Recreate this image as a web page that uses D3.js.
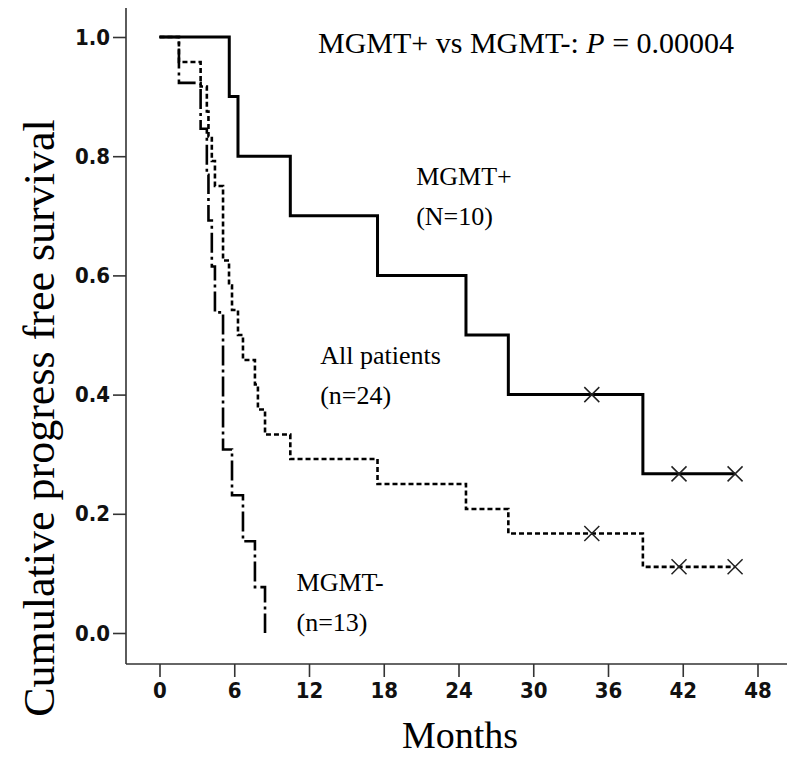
<!DOCTYPE html>
<html>
<head>
<meta charset="utf-8">
<script src="https://cdn.jsdelivr.net/npm/d3@7"></script>
<style>
  html, body { margin: 0; padding: 0; background: #fff; }
  svg { display: block; }
</style>
</head>
<body>
<svg id="chart" width="800" height="764"></svg>
<script>
// ---- Data ----
const xTicks = [0, 6, 12, 18, 24, 30, 36, 42, 48];
const yTicks = [0.0, 0.2, 0.4, 0.6, 0.8, 1.0];

// MGMT+ (N=10): solid
const posTimes = [0, 5.6, 6.3, 10.5, 17.5, 24.6, 28.0, 38.8, 46.2];
const posSurv  = [1.0, 0.9, 0.8, 0.7, 0.6, 0.5, 0.4, 0.267, 0.267];
const posCensorTimes = [34.7, 41.7, 46.2];
const posCensorSurv  = [0.4, 0.267, 0.267];

// All patients (n=24): dashed
const allTimes = [0, 1.56, 3.3, 3.8, 3.93, 4.2, 4.45, 5.1, 5.58, 5.82, 6.3, 6.7, 7.66, 7.9, 8.47, 10.5, 17.5, 24.6, 28.0, 38.8, 46.2];
const allSurv  = [1.0, 0.958, 0.917, 0.875, 0.833, 0.792, 0.75, 0.625, 0.583, 0.542, 0.5, 0.458, 0.417, 0.375, 0.333, 0.292, 0.25, 0.208, 0.167, 0.111, 0.111];
const allCensorTimes = [34.7, 41.7, 46.2];
const allCensorSurv  = [0.167, 0.111, 0.111];

// MGMT- (n=13): dash-dot
const negTimes = [0, 1.56, 3.3, 3.8, 3.93, 4.2, 4.45, 5.1, 5.82, 6.7, 7.66, 8.47];
const negSurv  = [1.0, 0.923, 0.846, 0.769, 0.692, 0.615, 0.538, 0.308, 0.231, 0.154, 0.077, 0.0];

const labels = [
  {lines: ["MGMT+", "(N=10)"], t: 20.6, s: 0.752},
  {lines: ["All patients", "(n=24)"], t: 12.9, s: 0.452},
  {lines: ["MGMT-", "(n=13)"], t: 11.0, s: 0.07}
];

// ---- Drawing ----
const svg = d3.select("#chart");
const x = d3.scaleLinear().domain([0, 48]).range([159.5, 757.5]);
const y = d3.scaleLinear().domain([0, 1]).range([633, 37]);

const tickFont = '"Liberation Sans Narrow", "DejaVu Sans Condensed", "Arial Narrow", sans-serif';
const serif = '"Liberation Serif", "Times New Roman", serif';

// axes
const xAxisY = 664;
const yAxisX = 126;
const gx = svg.append("g").attr("transform", `translate(0,${xAxisY})`)
  .call(d3.axisBottom(x).tickValues(xTicks).tickSize(13).tickSizeOuter(0).tickPadding(5).tickFormat(d3.format("d")));
gx.select(".domain").attr("d", `M${yAxisX},0H787`);
const gy = svg.append("g").attr("transform", `translate(${yAxisX},0)`)
  .call(d3.axisLeft(y).tickValues(yTicks).tickSize(13).tickSizeOuter(0).tickPadding(3).tickFormat(d3.format(".1f")));
gy.select(".domain").attr("d", `M0,8V${xAxisY}`);

[gx, gy].forEach(g => {
  g.selectAll(".domain").attr("stroke", "#333").attr("stroke-width", 1.6);
  g.selectAll(".tick line").attr("stroke", "#333").attr("stroke-width", 1.6);
  g.selectAll("text").attr("font-family", tickFont).attr("font-weight", "bold")
    .attr("font-size", 22).attr("fill", "#111").style("font-stretch", "condensed");
});

// curves
const line = d3.line().x(d => x(d[0])).y(d => y(d[1])).curve(d3.curveStepAfter);
const series = [
  {t: posTimes, s: posSurv, dash: null, w: 3},
  {t: allTimes, s: allSurv, dash: "5,3", w: 2.6},
  {t: negTimes, s: negSurv, dash: "20,4,3,4", w: 2.6}
];
series.forEach(sr => {
  const pts = sr.t.map((t, i) => [t, sr.s[i]]);
  svg.append("path").datum(pts).attr("d", line)
    .attr("fill", "none").attr("stroke", "#000").attr("stroke-width", sr.w)
    .attr("stroke-dasharray", sr.dash);
});

// censor marks (x)
const censors = [
  {t: posCensorTimes, s: posCensorSurv},
  {t: allCensorTimes, s: allCensorSurv}
];
const cs = 7.5;
censors.forEach(c => {
  c.t.forEach((t, i) => {
    const cx = x(t), cy = y(c.s[i]);
    svg.append("path")
      .attr("d", `M${cx - cs},${cy - cs}L${cx + cs},${cy + cs}M${cx - cs},${cy + cs}L${cx + cs},${cy - cs}`)
      .attr("stroke", "#222").attr("stroke-width", 1.5).attr("fill", "none");
  });
});

// curve labels
labels.forEach(l => {
  const txt = svg.append("text").attr("font-family", serif).attr("font-size", 26).attr("fill", "#000");
  l.lines.forEach((s, i) => {
    txt.append("tspan").attr("x", x(l.t)).attr("y", y(l.s) + i * 40).text(s);
  });
});

// title
const title = svg.append("text").attr("x", 318).attr("y", 53)
  .attr("font-family", serif).attr("font-size", 30).attr("fill", "#000");
title.append("tspan").text("MGMT+ vs MGMT-: ");
title.append("tspan").attr("font-style", "italic").text("P");
title.append("tspan").text(" = 0.00004");

// axis titles
svg.append("text").attr("x", 460).attr("y", 748).attr("text-anchor", "middle")
  .attr("font-family", serif).attr("font-size", 38).attr("fill", "#000").text("Months");
svg.append("text").attr("transform", "translate(54,418) rotate(-90)").attr("text-anchor", "middle")
  .attr("font-family", serif).attr("font-size", 44).attr("fill", "#000").text("Cumulative progress free survival");
</script>
</body>
</html>
